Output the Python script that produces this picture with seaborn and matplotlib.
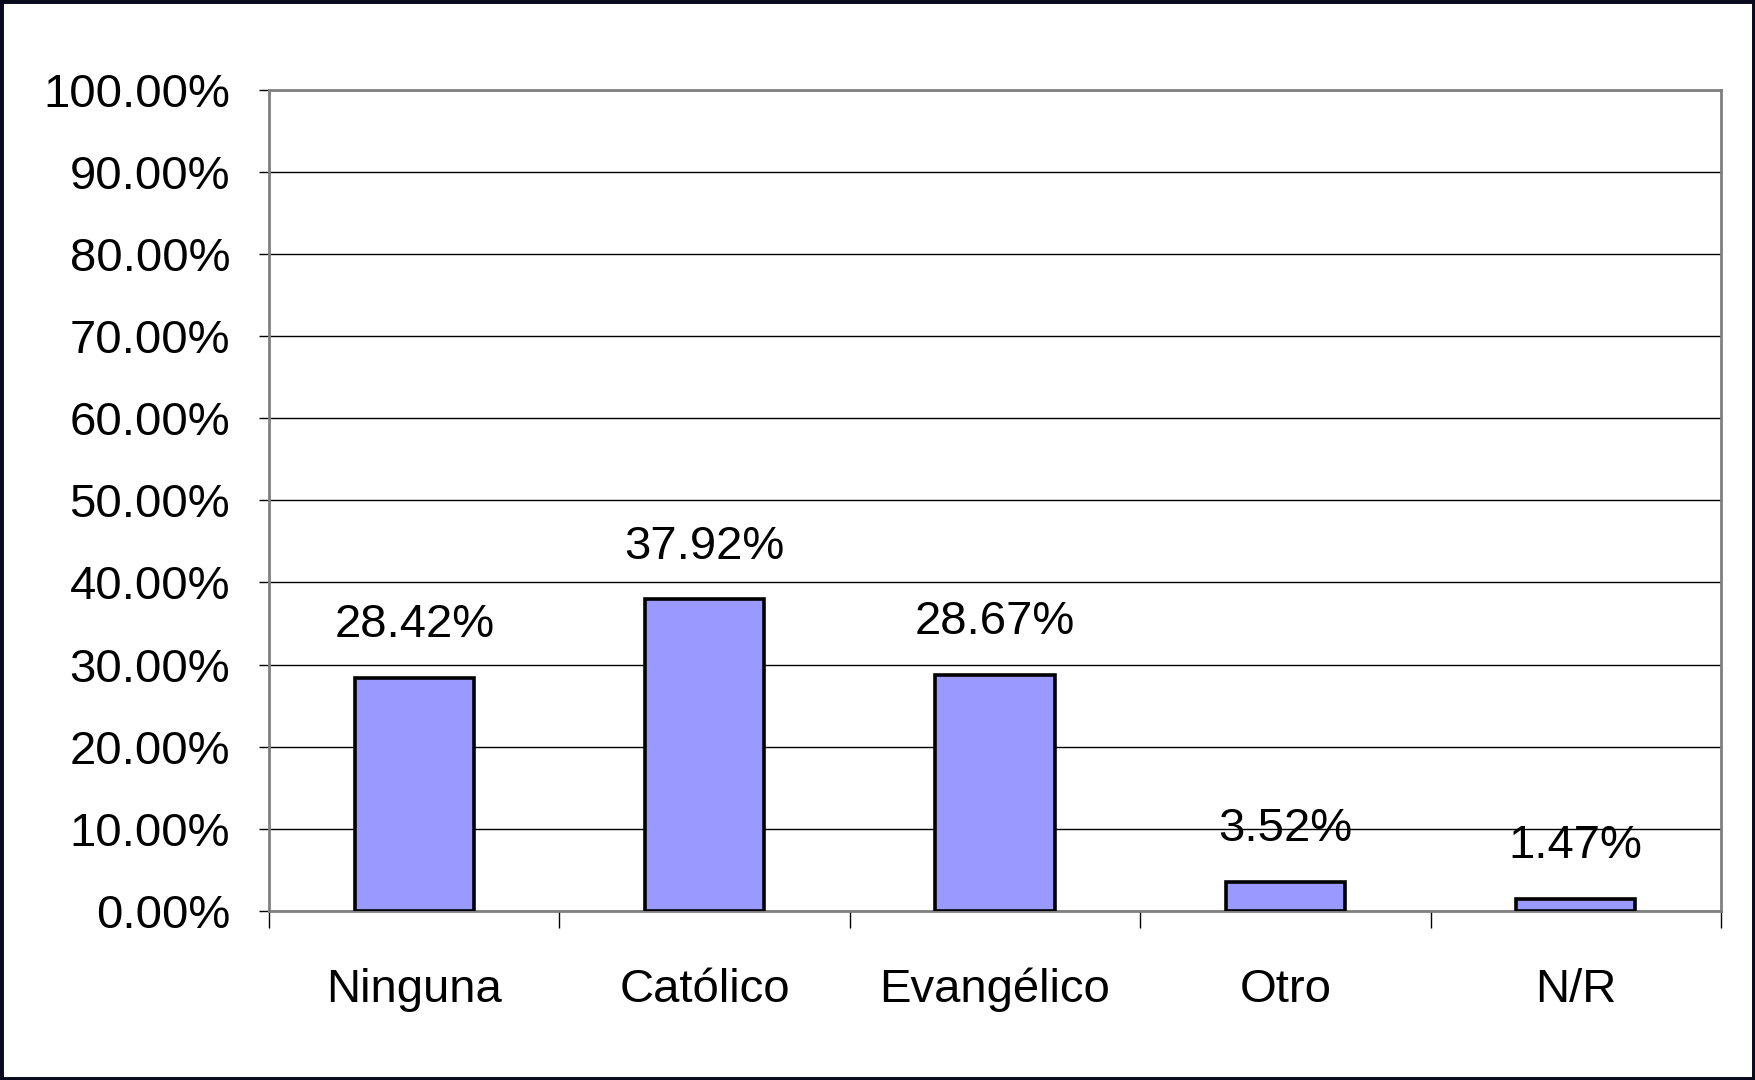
import matplotlib
matplotlib.use("Agg")
import matplotlib.pyplot as plt
import seaborn as sns
import pandas as pd
from matplotlib.patches import Rectangle
from matplotlib.ticker import FuncFormatter

# datos
categorias = ["Ninguna", "Católico", "Evangélico", "Otro", "N/R"]
porcentajes = [28.42, 37.92, 28.67, 3.52, 1.47]
y_ticks = [0, 10, 20, 30, 40, 50, 60, 70, 80, 90, 100]

sns.set_style("white")
plt.rcParams['font.family'] = ['Liberation Sans', 'DejaVu Sans']
plt.rcParams['text.color'] = 'black'
plt.rcParams['xtick.labelcolor'] = 'black'
plt.rcParams['ytick.labelcolor'] = 'black'

df = pd.DataFrame({"religion": categorias, "pct": porcentajes})

fig = plt.figure(figsize=(17.55, 10.8), dpi=100)
ax = fig.add_axes([0.1533, 0.1565, 0.8273, 0.7606])

sns.barplot(data=df, x="religion", y="pct", color="#9999FF", saturation=1,
            width=0.41, edgecolor="black", linewidth=2.6, ax=ax, zorder=3)

ax.set_xlim(-0.5, len(categorias) - 0.5)
ax.set_ylim(0, 100)
ax.set_yticks(y_ticks)
ax.yaxis.set_major_formatter(FuncFormatter(lambda v, p: f"{v:.2f}%"))
ax.yaxis.grid(True, color="black", linewidth=1)
ax.set_axisbelow(True)
ax.set_xlabel("")
ax.set_ylabel("")

# ticks del eje x entre categorías
ax.set_xticks([i - 0.5 for i in range(len(categorias) + 1)], minor=True)
ax.tick_params(axis="x", which="major", length=0, pad=41, labelsize=34,
               labelcolor="black")
ax.tick_params(axis="x", which="minor", length=12, width=1, color="black",
               direction="out", bottom=True)
ax.tick_params(axis="y", length=7, width=1, color="black", direction="out",
               left=True, pad=21, labelsize=34, labelcolor="black")

for s in ax.spines.values():
    s.set_color("#808080")
    s.set_linewidth(2)
    s.set_visible(True)

# etiquetas de valor
for i, v in enumerate(porcentajes):
    ax.annotate(f"{v:.2f}%", xy=(i, v), xytext=(0, 29.5), textcoords="offset points",
                ha="center", va="baseline", fontsize=34, color="black", zorder=4)

# borde de la figura
fig.patches.append(Rectangle((0, 0), 1, 1, transform=fig.transFigure, fill=False,
                             edgecolor="#0a0a1e", linewidth=5))

fig.savefig("out.png", dpi=100)
